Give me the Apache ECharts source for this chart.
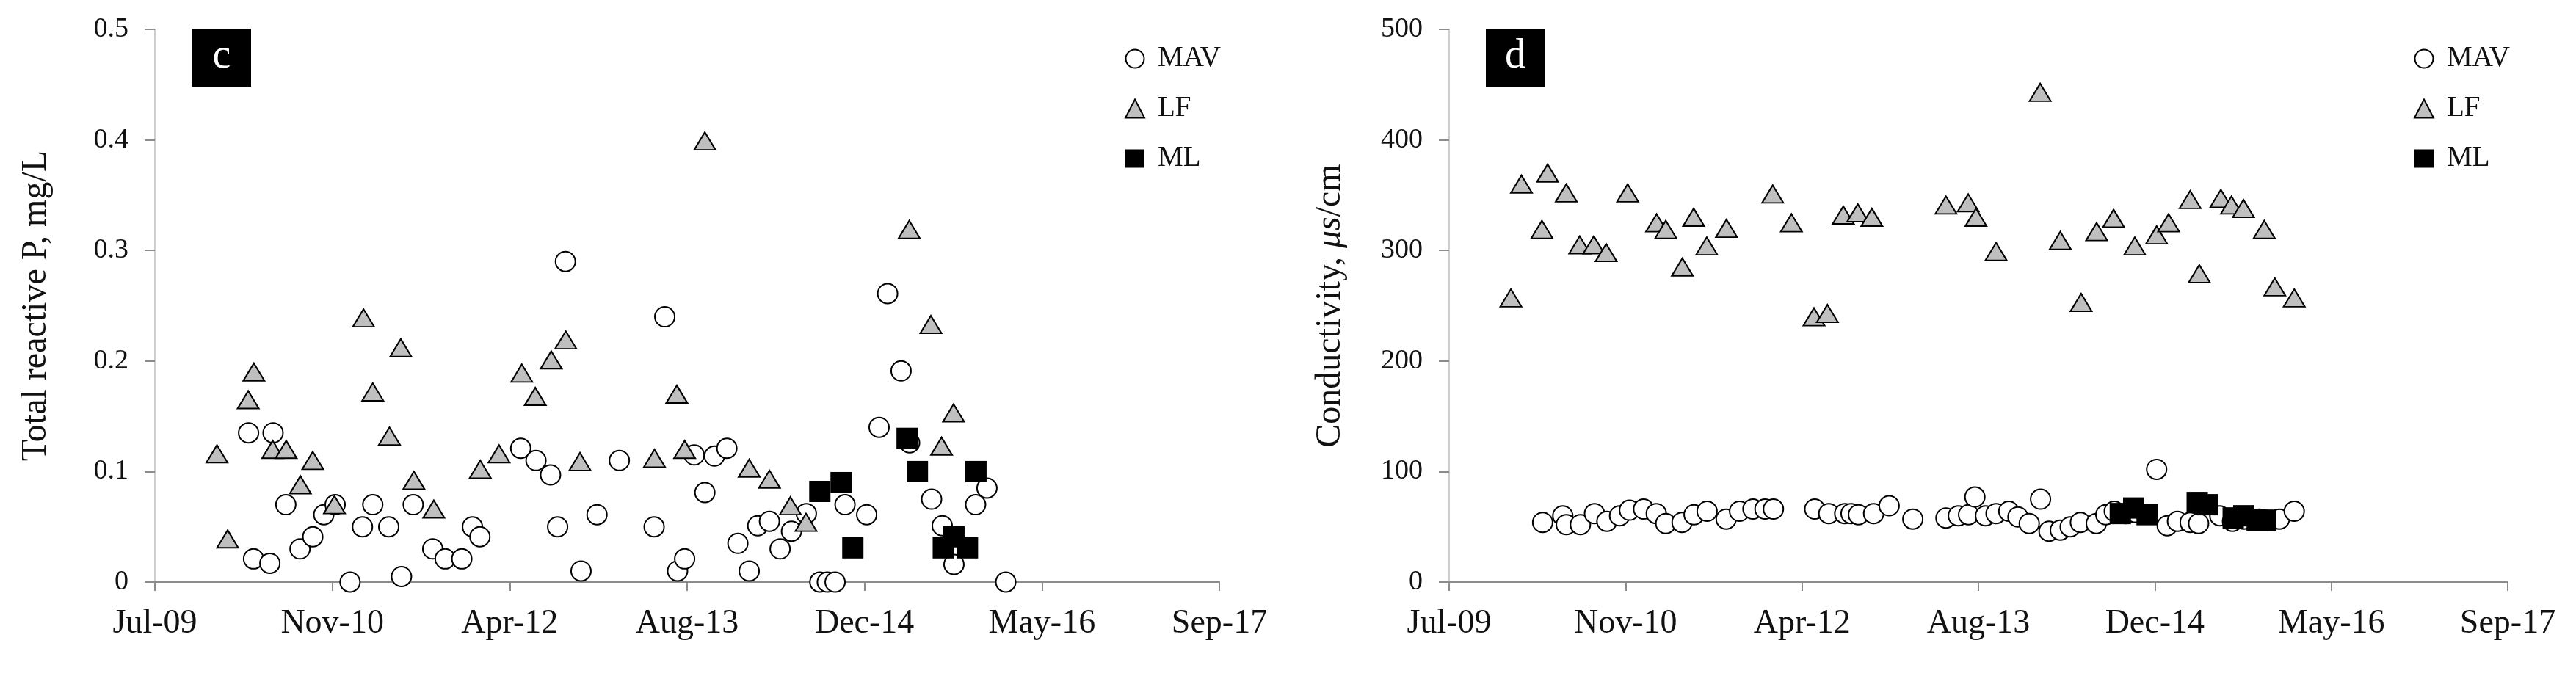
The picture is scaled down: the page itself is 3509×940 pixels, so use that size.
<!DOCTYPE html>
<html>
<head>
<meta charset="utf-8">
<script src="https://cdn.jsdelivr.net/npm/echarts@6/dist/echarts.min.js"></script>
<style>
html,body{margin:0;padding:0;background:#fff;}
#chart{width:3509px;height:940px;}
</style>
</head>
<body>
<div id="chart"></div>
<script>
// ---------- axis / tick labels ----------
const xTickLabels = ['Jul-09', 'Nov-10', 'Apr-12', 'Aug-13', 'Dec-14', 'May-16', 'Sep-17'];
const xStartSerial = 40000;   // spreadsheet date serial of the first tick (6 Jul 2009)
const xStepDays = 500;        // days between ticks
const cYTickLabels = ['0', '0.1', '0.2', '0.3', '0.4', '0.5'];
const dYTickLabels = ['0', '100', '200', '300', '400', '500'];
const seriesNames = ['MAV', 'LF', 'ML'];
const cTitle = 'Total reactive P, mg/L';
const dTitle = 'Conductivity, {i|μs}/cm';

// ---------- panel c : total reactive P (mg/L) ----------
const cMavDates = ['2010-03-27','2010-04-10','2010-05-26','2010-06-04','2010-07-10','2010-08-19','2010-09-24','2010-10-25','2010-11-26','2011-01-07',
  '2011-02-11','2011-03-12','2011-04-26','2011-06-01','2011-07-04','2011-08-28','2011-10-02','2011-11-18','2011-12-18','2012-01-08',
  '2012-05-02','2012-06-14','2012-07-25','2012-08-14','2012-09-05','2012-10-19','2012-12-03','2013-02-04','2013-05-13','2013-06-12',
  '2013-07-18','2013-08-07','2013-09-03','2013-10-03','2013-10-30','2013-12-04','2014-01-04','2014-02-05','2014-03-01','2014-04-03',
  '2014-05-03','2014-06-04','2014-07-16','2014-08-23','2014-09-13','2014-10-05','2014-11-02','2015-01-02','2015-02-06','2015-03-02',
  '2015-04-09','2015-05-03','2015-07-04','2015-08-03','2015-09-05','2015-11-05','2015-12-07','2016-01-29'];
const cMavValues = [0.135,0.021,0.017,0.135,0.070,0.030,0.041,0.061,0.070,0.000,
  0.050,0.070,0.050,0.005,0.070,0.030,0.021,0.021,0.050,0.041,
  0.121,0.110,0.097,0.050,0.290,0.010,0.061,0.110,0.050,0.240,
  0.010,0.021,0.115,0.081,0.114,0.121,0.035,0.010,0.051,0.055,
  0.030,0.046,0.062,0.000,0.000,0.000,0.070,0.061,0.140,0.261,
  0.191,0.126,0.075,0.051,0.016,0.070,0.085,0.000];

const cLfDates = ['2009-12-28','2010-01-27','2010-03-26','2010-04-11','2010-06-03','2010-07-11','2010-08-20','2010-09-24','2010-11-24','2011-02-14',
  '2011-03-12','2011-04-28','2011-05-30','2011-07-06','2011-08-31','2012-01-09','2012-03-02','2012-05-05','2012-06-12','2012-07-27',
  '2012-09-06','2012-10-16','2013-05-14','2013-07-16','2013-08-07','2013-10-03','2014-02-05','2014-04-03','2014-06-01','2014-07-15',
  '2015-05-02','2015-07-02','2015-08-01','2015-09-04'];
const cLfValues = [0.116,0.039,0.165,0.190,0.120,0.120,0.088,0.110,0.070,0.239,
  0.172,0.132,0.212,0.092,0.066,0.102,0.116,0.189,0.168,0.201,
  0.219,0.109,0.112,0.170,0.120,0.399,0.103,0.093,0.069,0.054,
  0.319,0.233,0.123,0.153];

const cMlDates = ['2014-08-23','2014-10-22','2014-11-24','2015-04-26','2015-05-25','2015-08-06','2015-09-05','2015-10-13','2015-11-06'];
const cMlValues = [0.082,0.090,0.031,0.130,0.100,0.031,0.041,0.031,0.100];

// ---------- panel d : conductivity (µs/cm) ----------
const dMavDates = ['2010-03-28','2010-05-24','2010-06-03','2010-07-13','2010-08-22','2010-09-26','2010-11-01','2010-11-29','2011-01-08','2011-02-13',
  '2011-03-12','2011-04-27','2011-05-31','2011-07-07','2011-08-30','2011-10-07','2011-11-14','2011-12-18','2012-01-11','2012-05-07',
  '2012-06-16','2012-07-31','2012-08-18','2012-09-08','2012-10-21','2012-12-04','2013-02-09','2013-05-14','2013-06-18','2013-07-17',
  '2013-08-04','2013-09-03','2013-10-03','2013-11-08','2013-12-04','2014-01-05','2014-02-06','2014-03-02','2014-04-03','2014-05-01',
  '2014-05-30','2014-07-14','2014-08-10','2014-09-03','2014-10-05','2014-11-02','2015-01-01','2015-01-31','2015-03-01','2015-04-06',
  '2015-04-30','2015-06-29','2015-08-04','2015-09-05','2015-10-19','2015-12-15','2016-01-26'];
const dMavValues = [54,60,52,52,62,55,60,65,66,62,
  53,54,61,64,57,64,66,66,66,66,
  62,62,62,61,62,69,57,58,60,61,
  77,60,62,64,59,53,75,46,47,50,
  54,53,61,64,62,63,102,51,55,54,
  53,60,55,57,57,57,64];

const dLfDates = ['2009-12-28','2010-01-27','2010-03-26','2010-04-11','2010-06-03','2010-07-11','2010-08-20','2010-09-24','2010-11-24','2011-02-14',
  '2011-03-12','2011-04-28','2011-05-30','2011-07-06','2011-08-31','2012-01-09','2012-03-02','2012-05-05','2012-06-12','2012-07-27',
  '2012-09-06','2012-10-16','2013-05-14','2013-07-16','2013-08-07','2013-10-03','2014-02-05','2014-04-03','2014-06-01','2014-07-15',
  '2014-09-01','2014-10-31','2015-01-01','2015-02-04','2015-04-06','2015-05-02','2015-07-02','2015-08-01','2015-09-04','2015-11-02',
  '2015-12-02','2016-01-26'];
const dLfValues = [257,360,319,370,352,305,305,298,352,325,
  319,285,330,304,320,351,325,240,243,332,
  334,330,341,343,330,299,443,309,253,317,
  329,304,314,325,346,279,347,341,338,319,
  267,257];

const dMlDates = ['2014-09-20','2014-10-28','2014-12-05','2015-04-26','2015-05-25','2015-08-06','2015-09-05','2015-10-13','2015-11-06'];
const dMlValues = [62,67,61,72,70,58,60,56,56];

// ---------- helpers ----------
function toSerial(d) {
  const p = d.split('-').map(Number);
  return Date.UTC(p[0], p[1] - 1, p[2]) / 86400000 + 25569;
}
function pairs(dates, values) {
  return dates.map((d, i) => [toSerial(d), values[i]]);
}

const FONT = '"Liberation Serif", "Times New Roman", serif';
const AX_GRAY = '#8c8c8c';

const grids = [
  { left: 211, top: 40, width: 1450, height: 753 },
  { left: 1974, top: 40, width: 1442, height: 753 }
];

function xAxisFor(idx) {
  return {
    type: 'value', gridIndex: idx,
    min: xStartSerial, max: xStartSerial + xStepDays * (xTickLabels.length - 1), interval: xStepDays,
    axisLine: { show: true, lineStyle: { color: AX_GRAY, width: 2 } },
    axisTick: { show: true, inside: false, length: 12, lineStyle: { color: AX_GRAY, width: 2 } },
    splitLine: { show: false },
    axisLabel: {
      margin: 34, color: '#111', fontFamily: FONT, fontSize: 46,
      formatter: v => xTickLabels[Math.round((v - xStartSerial) / xStepDays)]
    }
  };
}
function yAxisFor(idx, labels, maxV, title, extraRich) {
  const step = maxV / (labels.length - 1);
  return {
    type: 'value', gridIndex: idx, min: 0, max: maxV, interval: step,
    name: title, nameLocation: 'middle', nameGap: 138,
    nameTextStyle: { fontFamily: FONT, fontSize: 48, color: '#111', rich: extraRich || {} },
    axisLine: { show: true, lineStyle: { color: '#cfcfcf', width: 2 } },
    axisTick: { show: true, inside: false, length: 14, lineStyle: { color: AX_GRAY, width: 2 } },
    splitLine: { show: false },
    axisLabel: {
      margin: 36, color: '#111', fontFamily: FONT, fontSize: 38,
      formatter: v => labels[Math.round(v / step)]
    }
  };
}

const mavStyle = { color: '#ffffff', borderColor: '#000', borderWidth: 2, opacity: 1 };
const lfStyle = { color: '#bfbfbf', borderColor: '#000', borderWidth: 2, opacity: 1 };
const mlStyle = { color: '#000000', borderColor: '#000', borderWidth: 0, opacity: 1 };

function seriesFor(idx, mav, lf, ml) {
  return [
    { name: 'MAV', type: 'scatter', xAxisIndex: idx, yAxisIndex: idx, symbol: 'circle', symbolSize: 27, itemStyle: mavStyle, data: mav, z: 2 },
    { name: 'LF', type: 'scatter', xAxisIndex: idx, yAxisIndex: idx, symbol: 'triangle', symbolSize: [29, 24], itemStyle: lfStyle, data: lf, z: 3 },
    { name: 'ML', type: 'scatter', xAxisIndex: idx, yAxisIndex: idx, symbol: 'rect', symbolSize: 29, itemStyle: mlStyle, data: ml, z: 4 }
  ];
}

function legendAt(markerCenterX) {
  return {
    data: seriesNames, orient: 'vertical', left: markerCenterX - 13, top: 55,
    itemWidth: 26, itemHeight: 25, itemGap: 28, selectedMode: false,
    itemStyle: { opacity: 1 },
    textStyle: { fontFamily: FONT, fontSize: 39, color: '#111', lineHeight: 40, padding: [0, 0, 0, 13] }
  };
}

function panelLabel(left, letter) {
  return [
    { type: 'rect', x: left, y: 39, z: 100, shape: { x: 0, y: 0, width: 80, height: 79 }, style: { fill: '#000' } },
    { type: 'text', x: left + 40, y: 77, z: 101,
      style: { text: letter, fill: '#fff', font: '56px "Liberation Serif", serif', align: 'center', verticalAlign: 'middle' } }
  ];
}

const chart = echarts.init(document.getElementById('chart'), null, { renderer: 'canvas' });
chart.setOption({
  backgroundColor: '#fff',
  animation: false,
  grid: grids.map(g => Object.assign({ outerBoundsMode: 'none', containLabel: false }, g)),
  xAxis: [xAxisFor(0), xAxisFor(1)],
  yAxis: [
    yAxisFor(0, cYTickLabels, 0.5, cTitle),
    yAxisFor(1, dYTickLabels, 500, dTitle, { i: { fontFamily: FONT, fontSize: 48, fontStyle: 'italic', color: '#111' } })
  ],
  legend: [legendAt(1540), legendAt(3296)],
  series: [
    ...seriesFor(0, pairs(cMavDates, cMavValues), pairs(cLfDates, cLfValues), pairs(cMlDates, cMlValues)),
    ...seriesFor(1, pairs(dMavDates, dMavValues), pairs(dLfDates, dLfValues), pairs(dMlDates, dMlValues))
  ],
  graphic: [...panelLabel(262, 'c'), ...panelLabel(2024, 'd')]
});
</script>
</body>
</html>
